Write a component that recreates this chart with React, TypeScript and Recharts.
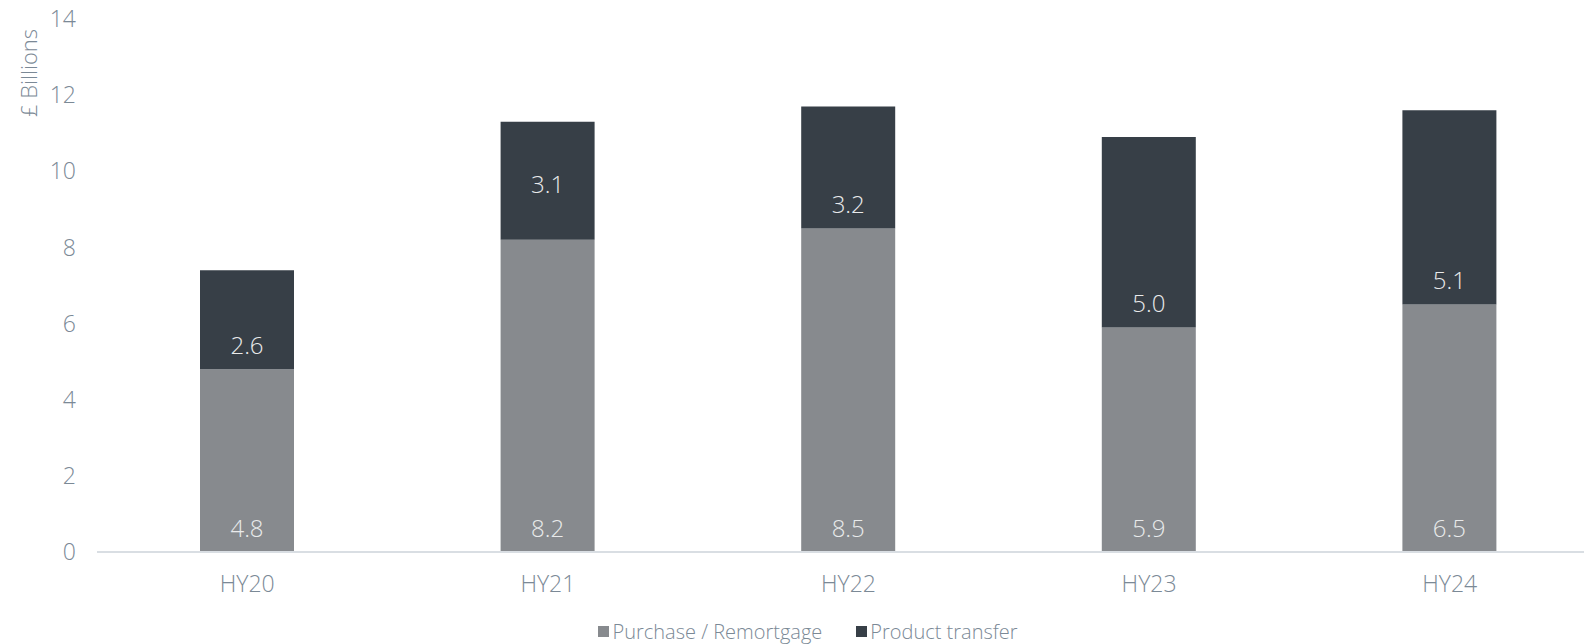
import React from 'react';
import { BarChart, Bar, XAxis, YAxis, Legend, LabelList, Label } from 'recharts';

const categories = ['HY20', 'HY21', 'HY22', 'HY23', 'HY24'];
const purchaseRemortgage = [4.8, 8.2, 8.5, 5.9, 6.5];
const productTransfer = [2.6, 3.1, 3.2, 5.0, 5.1];
const yTicks = [0, 2, 4, 6, 8, 10, 12, 14];

const data = categories.map((name, i) => ({
    name,
    purchase: purchaseRemortgage[i],
    transfer: productTransfer[i],
}));

const FONT = '"Open Sans", Lato, sans-serif';
const WEIGHT = 300;
const TICK_COLOR = '#7b8996';
const COLORS = {
    purchase: '#878a8e',
    transfer: '#373f47',
};
// how far above the segment bottom each value label sits
const purchaseLift = [25, 25, 25, 25, 25];
const transferLift = [25, 56, 25, 25, 25];

const makeLabel = (lift: number[]) => (props: any) => {
    const { x, y, width, height, value, index } = props;
    return (
        <text
            x={Number(x) + Number(width) / 2}
            y={Number(y) + Number(height) - lift[index]}
            textAnchor="middle"
            dominantBaseline="central"
            fill="#e9eaeb"
            fontSize={24}
            fontWeight={WEIGHT}
            fontFamily={FONT}
        >
            {Number(value).toFixed(1)}
        </text>
    );
};

const legendOrder = ['purchase', 'transfer'];

const renderLegend = (props: any) => {
    const payload = [...(props.payload || [])].sort(
        (a: any, b: any) => legendOrder.indexOf(a.dataKey) - legendOrder.indexOf(b.dataKey)
    );
    return (
        <div style={{ display: 'flex', justifyContent: 'center', alignItems: 'center', height: 26, fontFamily: FONT, fontWeight: WEIGHT, fontSize: 20, color: TICK_COLOR }}>
            {payload.map((entry: any, i: number) => (
                <div key={`leg-${i}`} style={{ display: 'flex', alignItems: 'center', marginRight: i === 0 ? 34 : 0 }}>
                    <span style={{ width: 11, height: 11, background: entry.color, display: 'inline-block', marginRight: 3 }} />
                    <span>{entry.value}</span>
                </div>
            ))}
        </div>
    );
};

const App = () => {
    return (
        <div style={{ position: 'absolute', left: 0, top: 0, width: 1584, height: 644, overflow: 'hidden', background: '#fff' }}>
            <BarChart
                width={1600}
                height={644}
                data={data}
                margin={{ top: 19, right: 0, bottom: 0, left: 0 }}
            >
                <XAxis
                    dataKey="name"
                    height={66}
                    axisLine={{ stroke: '#d9dee3', strokeWidth: 2 }}
                    tickLine={false}
                    tickMargin={18}
                    tick={{ fill: TICK_COLOR, fontSize: 23, fontWeight: WEIGHT, fontFamily: FONT }}
                />
                <YAxis
                    width={97}
                    domain={[0, 14]}
                    ticks={yTicks}
                    axisLine={false}
                    tickLine={false}
                    tickMargin={15}
                    tick={{ fill: TICK_COLOR, fontSize: 23, fontWeight: WEIGHT, fontFamily: FONT }}
                >
                    <Label
                        content={(p: any) => {
                            const vb = p.viewBox || { x: 0, y: 0 };
                            const cx = 28;
                            const cy = vb.y + 54;
                            return (
                                <text
                                    x={cx}
                                    y={cy}
                                    transform={`rotate(-90, ${cx}, ${cy})`}
                                    textAnchor="middle"
                                    dominantBaseline="central"
                                    fill={TICK_COLOR}
                                    fontSize={22}
                                    fontWeight={WEIGHT}
                                    fontFamily={FONT}
                                >
                                    £ Billions
                                </text>
                            );
                        }}
                    />
                </YAxis>
                <Legend
                    verticalAlign="bottom"
                    height={26}
                    content={renderLegend}
                    wrapperStyle={{ left: 0, width: 1616 }}
                />
                <Bar dataKey="purchase" name="Purchase / Remortgage" stackId="a" fill={COLORS.purchase} barSize={94} isAnimationActive={false}>
                    <LabelList dataKey="purchase" content={makeLabel(purchaseLift)} />
                </Bar>
                <Bar dataKey="transfer" name="Product transfer" stackId="a" fill={COLORS.transfer} barSize={94} isAnimationActive={false}>
                    <LabelList dataKey="transfer" content={makeLabel(transferLift)} />
                </Bar>
            </BarChart>
        </div>
    );
};

export default App;
